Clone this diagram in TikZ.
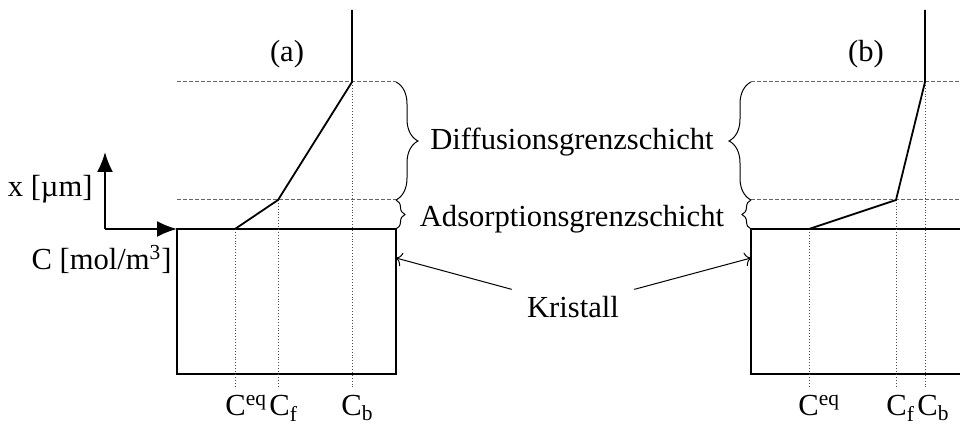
\documentclass[tikz,border=0pt]{standalone}
\usepackage{fontspec}
\setmainfont{Liberation Serif}
\usetikzlibrary{arrows.meta,decorations.pathreplacing}
\tikzset{
  crystal/.style={line width=1pt},
  profile/.style={line width=0.9pt},
  layer/.style={dash pattern=on 2pt off 1pt,gray!80!black,line width=0.5pt},
  guide/.style={densely dotted,line width=0.45pt,gray!60!black},
  gbrace/.style={decorate,decoration={brace,amplitude=#1},line width=0.5pt},
  axis/.style={line width=1pt,-{Latex[length=10pt,width=8pt]}},
  pointer/.style={line width=0.5pt,-{To[length=3pt,width=7pt]}}
}

\begin{document}
\begin{tikzpicture}[x=0.5pt,y=-0.5pt,
  every node/.style={font=\fontsize{15.3}{18}\selectfont,inner sep=0pt}]
\useasboundingbox (0,0) rectangle (960,426);
\clip (0,0) rectangle (960,426);

% Axes
\coordinate (O) at (105,229);
\coordinate (xtip) at (105,152);
\coordinate (ctip) at (177,229);
\draw[axis] (O) -- (xtip);
\draw[axis] (O) -- (ctip);
\node[anchor=base east] (xlab) at (93,197) {x [µm]};
\node[anchor=base east] (clab) at (172,270) {C [mol/m\textsuperscript{3}]};

% Panel (a)
\draw[crystal] (177,229) rectangle (396,374);
\draw[layer] (177,82) -- (396,82);
\draw[layer] (177,200) -- (396,200);
\foreach \x/\y in {235/229,278/200,352/82}
  \draw[guide] (\x,\y) -- (\x,388);
\draw[profile] (235,229) -- (278,200) -- (352,82) -- (352,10);
\draw[gbrace=11] (396,82) -- (396,200);
\draw[gbrace=4.5] (396,200) -- (396,229);
\node[anchor=base] (pa) at (287,62) {(a)};
\node[anchor=base west] (ceqa) at (225,416) {C\textsuperscript{eq}};
\node[anchor=base west] (cfa) at (269,416) {C\textsubscript{f}};
\node[anchor=base west] (cba) at (341,416) {C\textsubscript{b}};

% Panel (b)
\draw[crystal] (751,229) rectangle (980,374);
\draw[layer] (751,82) -- (970,82);
\draw[layer] (751,200) -- (970,200);
\foreach \x/\y in {809/229,896/200,925/82}
  \draw[guide] (\x,\y) -- (\x,388);
\draw[profile] (809,229) -- (896,200) -- (925,82) -- (925,10);
\draw[gbrace=11] (751,200) -- (751,82);
\draw[gbrace=4.5] (751,229) -- (751,200);
\node[anchor=base] (pb) at (866,62) {(b)};
\node[anchor=base west] (ceqb) at (798,416) {C\textsuperscript{eq}};
\node[anchor=base west] (cfb) at (886,416) {C\textsubscript{f}};
\node[anchor=base west] (cbb) at (917,416) {C\textsubscript{b}};

% Layer names
\node[anchor=base] (diff) at (572,150) {Diffusionsgrenzschicht};
\node[anchor=base] (ads) at (572,227) {Adsorptionsgrenzschicht};
\node[anchor=base] (kri) at (573,318) {Kristall};

% Pointers to the crystals
\coordinate (ka) at (396,258);
\coordinate (kb) at (751,258);
\draw[pointer] ([shift={(-15,-7)}]kri.north west) -- (ka);
\draw[pointer] ([shift={(15,-7)}]kri.north east) -- (kb);

\end{tikzpicture}
\end{document}
